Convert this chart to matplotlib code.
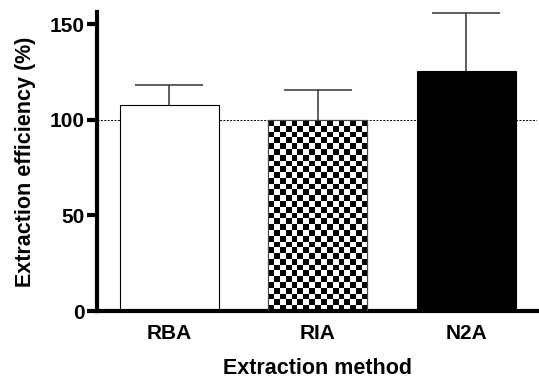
import numpy as np
import matplotlib
matplotlib.use("Agg")
import matplotlib.pyplot as plt

# data
methods = ["RBA", "RIA", "N2A"]
means = [107.6, 99.8, 125.4]
errors = [10.5, 15.7, 30.4]
fills = ["white", "checker", "black"]

plt.rcParams['font.family'] = ['Liberation Sans', 'DejaVu Sans']
plt.rcParams['font.weight'] = 'bold'

fig = plt.figure(figsize=(5.39, 3.79), dpi=100)
ax = fig.add_axes([0.18, 0.179, 0.817, 0.789])

x = np.arange(len(methods))
width = 0.667

for xi, m, e, f in zip(x, means, errors, fills):
    face = "black" if f == "black" else "white"
    bar = ax.bar(xi, m, width, color=face, edgecolor="black", linewidth=0.8, zorder=2)[0]
    if f == "checker":
        # checkerboard fill clipped to the bar
        ncol = 17
        nrow = 33
        board = (np.indices((nrow, ncol)).sum(axis=0) % 2).astype(float)
        im = ax.imshow(board, cmap="gray", interpolation="nearest", aspect="auto",
                       extent=[xi - width / 2, xi + width / 2, 0, m], zorder=2.5)
        im.set_clip_path(bar)
        ax.bar(xi, m, width, color="none", edgecolor="#444444", linewidth=0.8, zorder=3)
    # upper error bar only
    eb = ax.errorbar(xi, m, yerr=[[0], [e]], fmt="none", ecolor="#333333",
                     elinewidth=1.1, capsize=24.5, capthick=1.1, zorder=1.5)
    eb[1][0].set_visible(False)

ax.axhline(100, color="black", linestyle=(0, (2, 1.5)), linewidth=0.7, zorder=1)

ax.set_xlim(-0.488, 2.478)
ax.set_ylim(0, 156.3)
ax.set_yticks([0, 50, 100, 150])
ax.set_xticks(x)
ax.set_xticklabels(methods, fontsize=15, fontweight="bold")
ax.tick_params(axis="x", length=0, pad=9)
ax.tick_params(axis="y", length=7, width=3, pad=2, labelsize=15)
for lbl in ax.get_yticklabels():
    lbl.set_fontweight("bold")

ax.spines["top"].set_visible(False)
ax.spines["right"].set_visible(False)
ax.spines["left"].set_linewidth(3)
ax.spines["bottom"].set_linewidth(3)

ax.set_ylabel("Extraction efficiency (%)", fontsize=15.5, fontweight="bold", labelpad=10)
ax.set_xlabel("Extraction method", fontsize=15.5, fontweight="bold", labelpad=11)

fig.savefig("out.png", dpi=100)
